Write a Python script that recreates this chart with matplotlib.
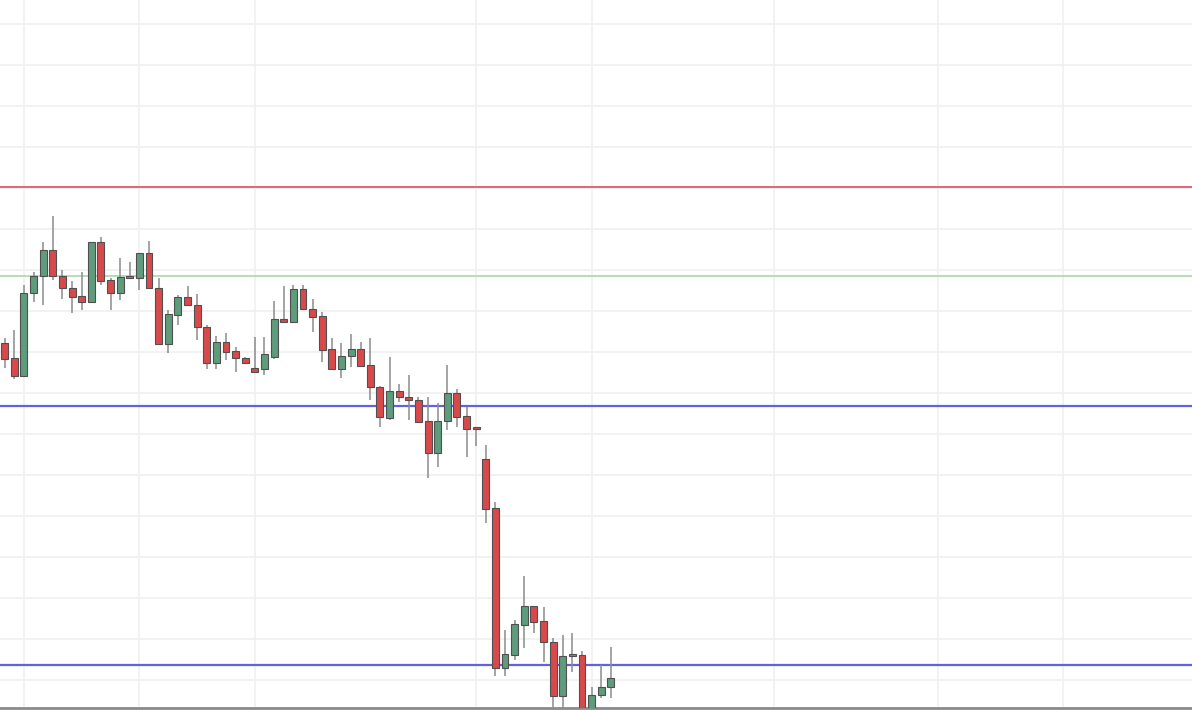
import matplotlib.pyplot as plt
import numpy as np

# candle data (open, high, low, close)
OPEN = [182.2, 178.5, 174.1, 194.4, 198.5, 204.9, 198.5, 195.6, 193.7, 192.2,
        206.8, 197.6, 194.4, 198.0, 198.0, 204.1, 195.6, 182.0, 189.0, 193.4,
        191.5, 186.1, 177.3, 182.4, 180.2, 178.5, 176.1, 175.9, 178.8, 188.0,
        187.3, 195.4, 190.5, 188.8, 180.7, 175.9, 179.0, 180.7, 176.8, 171.5,
        163.9, 170.5, 169.0, 168.3, 163.2, 155.4, 163.2, 170.0, 164.4, 161.5,
        153.9, 142.0, 102.9, 106.1, 113.4, 118.0, 114.4, 109.3, 96.1, 105.9,
        106.1, 92.5, 96.3, 98.3]
HIGH = [183.4, 185.4, 196.3, 199.5, 206.8, 213.2, 200.0, 197.3, 199.5, 206.8,
        208.0, 198.0, 202.9, 202.0, 204.3, 207.1, 198.0, 190.2, 193.9, 196.1,
        194.1, 186.6, 183.9, 184.6, 181.2, 178.8, 183.7, 183.7, 192.4, 196.1,
        196.3, 196.3, 192.9, 189.8, 183.4, 182.2, 184.4, 182.4, 183.4, 171.7,
        178.8, 172.2, 174.4, 169.0, 169.0, 167.6, 176.8, 171.0, 166.6, 161.5,
        157.3, 143.4, 112.2, 114.6, 125.4, 118.0, 117.8, 110.2, 111.0, 111.5,
        107.1, 98.3, 103.7, 108.0]
LOW = [176.1, 173.4, 173.9, 192.2, 191.5, 197.6, 192.9, 189.5, 190.2, 192.0,
       196.3, 190.2, 192.7, 197.8, 195.1, 195.4, 181.8, 179.8, 186.6, 191.3,
       182.9, 175.9, 175.9, 178.0, 175.1, 177.2, 174.9, 174.4, 178.3, 187.1,
       187.1, 190.4, 184.9, 177.6, 175.8, 173.7, 176.3, 176.5, 168.3, 161.7,
       163.4, 167.8, 163.4, 162.9, 149.3, 152.0, 161.0, 161.7, 154.4, 157.1,
       138.3, 101.0, 101.0, 104.9, 107.8, 111.5, 104.4, 93.4, 93.4, 102.0,
       92.2, 92.2, 95.6, 95.6]
CLOSE = [178.3, 174.1, 194.4, 198.5, 204.9, 198.5, 195.6, 193.4, 192.2, 206.8,
         197.3, 194.4, 198.3, 198.4, 204.1, 195.6, 182.0, 189.3, 193.4, 191.5,
         186.1, 177.3, 182.4, 180.0, 178.5, 177.3, 175.1, 179.5, 188.0, 187.3,
         195.4, 190.5, 188.5, 180.5, 175.9, 179.0, 180.7, 176.6, 171.5, 164.1,
         170.5, 169.0, 168.3, 162.9, 155.4, 163.2, 170.0, 164.1, 161.2, 161.2,
         141.7, 102.9, 106.3, 113.7, 118.0, 114.1, 109.3, 96.1, 105.9, 106.1,
         92.7, 96.3, 98.3, 100.5]

# horizontal levels
RESISTANCE = 220.2
PREV_HIGH = 198.5
SUPPORTS = [166.8, 103.7]

# candle indices where the vertical grid lines fall
X_GRID = [2, 14, 26, 49, 61, 80, 97, 110]
Y_GRID = list(range(100, 270, 10))

UP = "#5e9c7c"
DOWN = "#d8494b"

fig = plt.figure(figsize=(11.92, 7.10), dpi=100)
ax = fig.add_axes([0, 2 / 710, 1, 708 / 710])

x = np.arange(len(OPEN))
o = np.array(OPEN)
c = np.array(CLOSE)
colors = [UP if cc >= oo else DOWN for oo, cc in zip(o, c)]
bottoms = np.minimum(o, c)
heights = np.maximum(np.abs(c - o), 0.5)

ax.vlines(x, LOW, HIGH, color="#8c8c8c", lw=1.1, zorder=3)
ax.bar(x, heights, bottom=bottoms, width=0.72, color=colors,
       edgecolor="#505050", linewidth=0.8, zorder=4)

ax.axhline(RESISTANCE, color="#e3647c", lw=1.4, zorder=2)
ax.axhline(PREV_HIGH, color="#acd6ac", lw=1.2, zorder=2)
for s in SUPPORTS:
    ax.axhline(s, color="#6262e0", lw=1.6, zorder=2)

ax.set_xlim(-0.49, 123.4)
ax.set_ylim(93.2, 265.9)
ax.set_xticks(X_GRID)
ax.set_yticks(Y_GRID)
ax.grid(True, color="#f0f0f0", lw=1.2, zorder=0)
ax.tick_params(length=0, labelbottom=False, labelleft=False)
for side in ["top", "left", "right"]:
    ax.spines[side].set_visible(False)
ax.spines["bottom"].set_color("#8a8a8a")
ax.spines["bottom"].set_linewidth(2)

plt.savefig("out.png", dpi=100)
